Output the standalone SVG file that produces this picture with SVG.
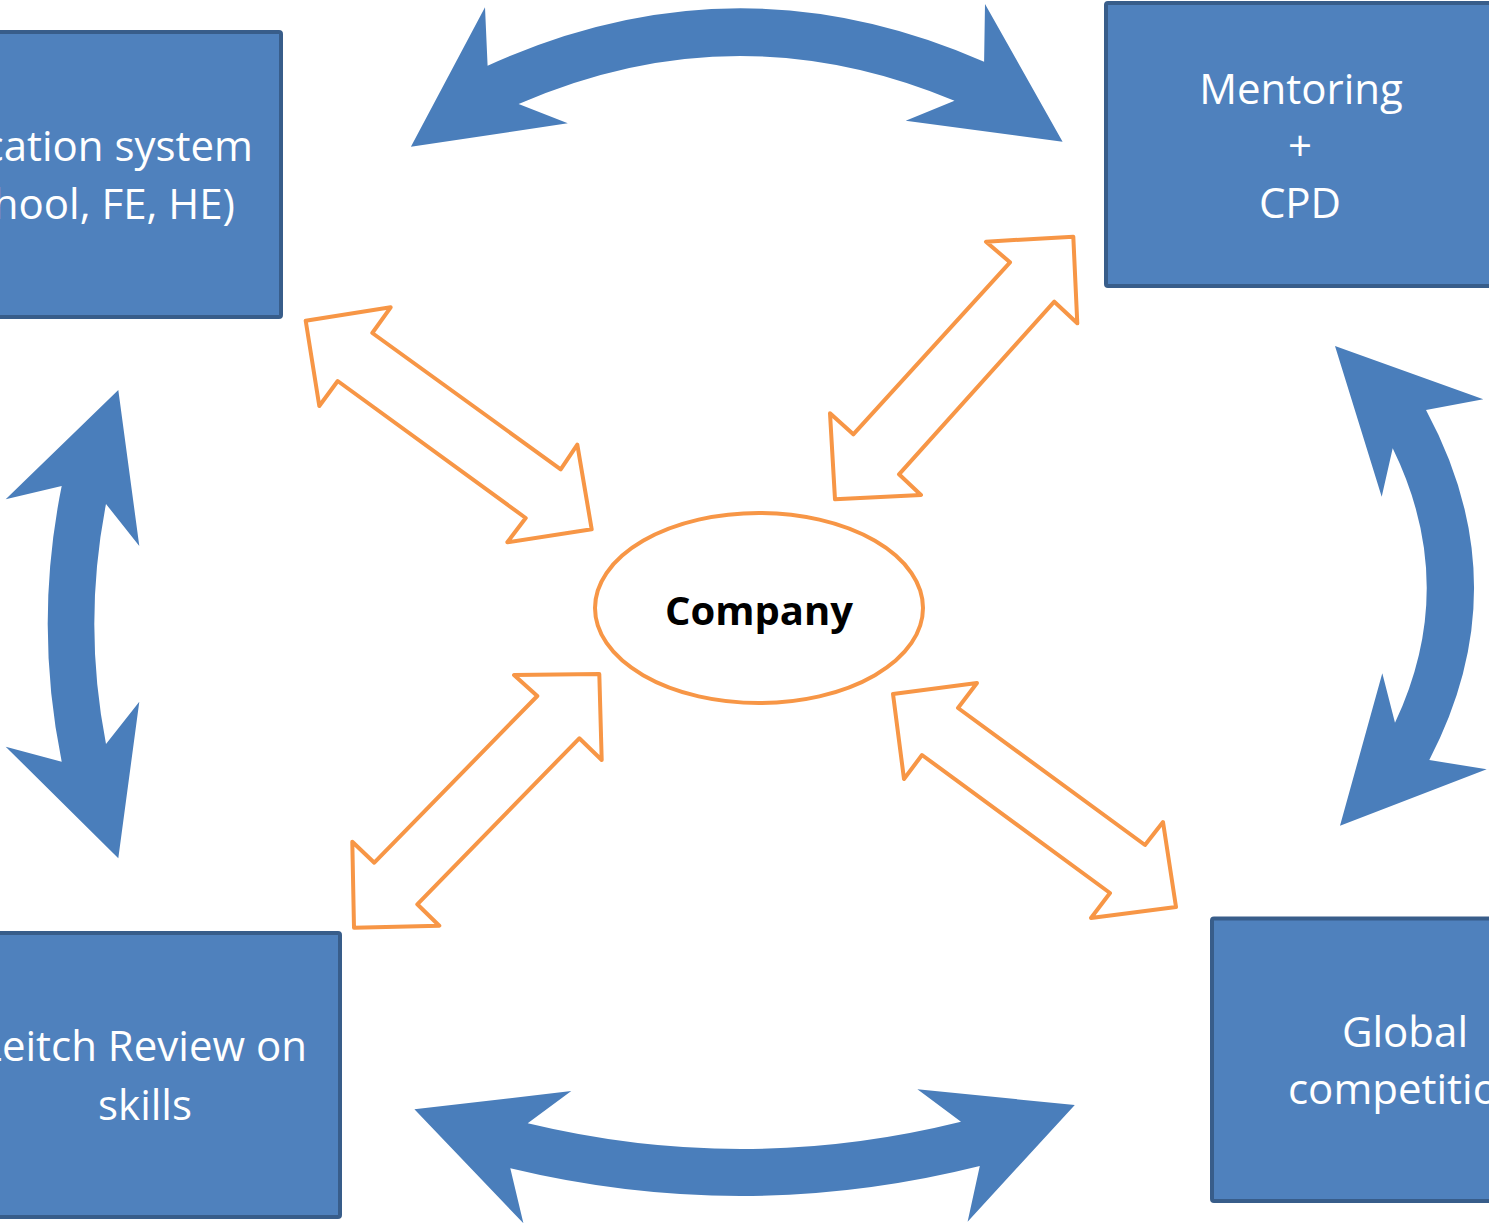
<svg xmlns="http://www.w3.org/2000/svg" width="1489" height="1226" viewBox="0 0 1489 1226">
<style>
.box{fill:#4F81BD;stroke:#385D8A;stroke-width:4}
.bt{fill:#FFFFFF;font-family:"Open Sans","Noto Sans",sans-serif;font-size:42px}
.blue{fill:#4A7EBB;stroke:none}
.orange{fill:#FFFFFF;stroke:#F79646;stroke-width:4;stroke-linejoin:round}
.ct{fill:#000000;font-family:"Open Sans","Noto Sans",sans-serif;font-size:40px;font-weight:bold}
</style>
<rect width="1489" height="1226" fill="#FFFFFF"/>
<g id="connectors">
  <path class="blue" d="M410.9,146.7 L485,7.3 L487.6,65.7 Q736,-47.1 984.1,61.7 L985,4 L1062.6,141.7 L905.7,120.7 L954.5,100.7 Q736,9.6 518.6,104 L567.8,123.3 Z"/>
  <path class="blue" d="M414.4,1109.3 L571.3,1091 L527.7,1123.3 Q744,1175.5 961,1121.7 L917.4,1089.3 L1074.8,1105 L967.6,1221.7 L979.8,1166 Q745,1224.8 510.3,1168.3 L523.4,1223.3 Z"/>
  <path class="blue" d="M118.3,390 L139.3,546 L106,504 Q82.6,624 106,744 L139.3,701.7 L118.3,858.3 L5.7,746.7 L61.7,761.7 Q33.7,624 61.7,486 L5.7,499.3 Z"/>
  <path class="blue" d="M1335,346 L1483.3,399.3 L1426,410 Q1520.4,585 1429.3,760 L1486.7,769.3 L1340,825.7 L1382.3,673.3 L1395,722.7 Q1459.6,585.5 1392.7,448.3 L1381.7,496.7 Z"/>
  <path class="orange" d="M305.7,320.7 L390.7,307.3 L372.3,333 L560.7,469.3 L577.3,444.7 L591.7,529.3 L507.3,542.3 L525.7,518 L337.7,381 L319.3,406 Z"/>
  <path class="orange" d="M1073.3,236.7 L1077.3,323.3 L1054.3,301.7 L899,474.3 L921,495 L835,499.3 L830,413.3 L853.3,434.3 L1010,262.3 L986,241.7 Z"/>
  <path class="orange" d="M599.3,674 L601.7,760 L579.3,738.3 L417.3,904.3 L439.3,925.7 L354,927.7 L352.3,841.7 L374.3,862.7 L537.3,696 L514,675 Z"/>
  <path class="orange" d="M893,694 L977,683 L958,708 L1145,845 L1163,822 L1176,907 L1091,918 L1110,893 L922,755 L904,779 Z"/>
</g>
<g id="node-education">
  <rect class="box" x="-120" y="32" width="401" height="285" rx="2"/>
  <text class="bt" x="253" y="161" text-anchor="end">Education system</text>
  <text class="bt" x="235" y="219" text-anchor="end">(School, FE, HE)</text>
</g>
<g id="node-mentoring">
  <rect class="box" x="1106" y="3" width="400" height="283" rx="2"/>
  <text class="bt" x="1301" y="104" text-anchor="middle">Mentoring</text>
  <text class="bt" x="1300" y="161" text-anchor="middle">+</text>
  <text class="bt" x="1300" y="218" text-anchor="middle">CPD</text>
</g>
<g id="node-leitch">
  <rect class="box" x="-60" y="933" width="400" height="284" rx="2"/>
  <text class="bt" x="307" y="1061" text-anchor="end">Leitch Review on</text>
  <text class="bt" x="145" y="1120" text-anchor="middle">skills</text>
</g>
<g id="node-global">
  <rect class="box" x="1212" y="918.5" width="400" height="282.5" rx="2"/>
  <text class="bt" x="1405" y="1047" text-anchor="middle">Global</text>
  <text class="bt" x="1288" y="1104" text-anchor="start">competition</text>
</g>
<g id="node-company">
  <ellipse class="orange" cx="759" cy="608" rx="164" ry="95"/>
  <text class="ct" x="759" y="625" text-anchor="middle">Company</text>
</g>
</svg>
